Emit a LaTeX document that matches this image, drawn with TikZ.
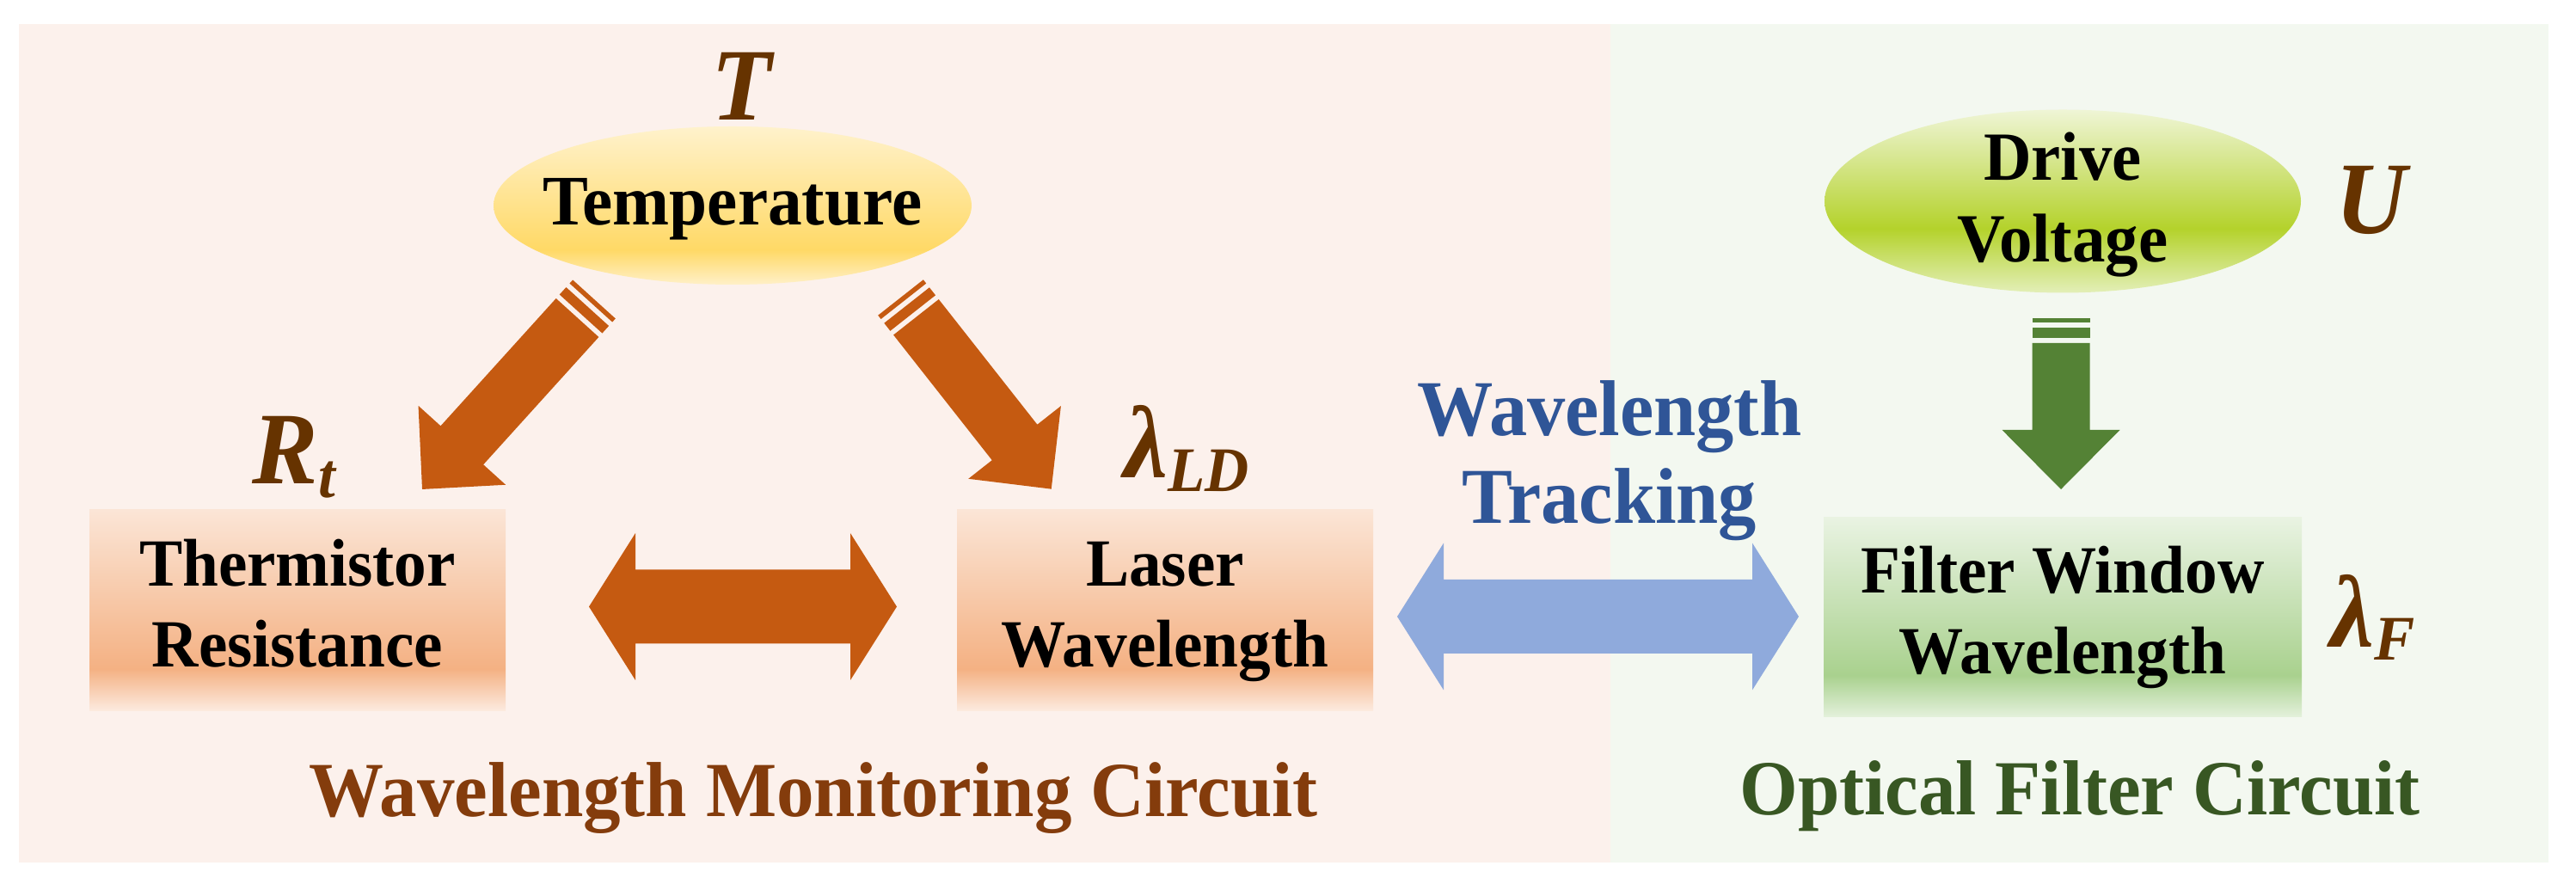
\documentclass[tikz,border=0pt]{standalone}
\usepackage{fontspec}
\setmainfont{Liberation Serif}[FakeStretch=0.96]
\usetikzlibrary{calc,shapes.geometric}

\definecolor{panelpink}{HTML}{FCF1EC}
\definecolor{panelgreen}{HTML}{F3F8F0}
\definecolor{arrorange}{HTML}{C55A11}
\definecolor{arrblue}{HTML}{8FAADC}
\definecolor{arrgreen}{HTML}{548235}
\definecolor{varbrown}{HTML}{663300}
\definecolor{monbrown}{HTML}{843C0C}
\definecolor{optgreen}{HTML}{385723}
\definecolor{trackblue}{HTML}{2F5597}
\definecolor{orbot}{HTML}{FCEBE0}
\definecolor{ormid}{HTML}{F4B183}
\definecolor{ortop}{HTML}{FBE5D6}
\definecolor{grbot}{HTML}{E4F1DC}
\definecolor{grmid}{HTML}{A9D18E}
\definecolor{grtop}{HTML}{E9F3E2}
\definecolor{gdbot}{HTML}{FFF0C8}
\definecolor{gdmid}{HTML}{FFD966}
\definecolor{gdtop}{HTML}{FFF2CC}
\definecolor{ylbot}{HTML}{E3EFB8}
\definecolor{ylmid}{HTML}{B4D22B}
\definecolor{yltop}{HTML}{EFF5D6}

% fills, listed bottom to top
\pgfdeclareverticalshading{orangebox}{100bp}{color(0bp)=(orbot); color(25bp)=(orbot); color(35.5bp)=(ormid); color(75bp)=(ortop); color(100bp)=(ortop)}
\pgfdeclareverticalshading{greenbox}{100bp}{color(0bp)=(grbot); color(25bp)=(grbot); color(35.5bp)=(grmid); color(75bp)=(grtop); color(100bp)=(grtop)}
\pgfdeclareverticalshading{goldbubble}{100bp}{color(0bp)=(gdbot); color(25bp)=(gdbot); color(36bp)=(gdmid); color(75bp)=(gdtop); color(100bp)=(gdtop)}
\pgfdeclareverticalshading{limebubble}{100bp}{color(0bp)=(ylbot); color(25bp)=(ylbot); color(42.5bp)=(ylmid); color(75bp)=(yltop); color(100bp)=(yltop)}

\tikzset{
	panelbox/.style={rectangle, inner sep=0pt, minimum width=4.84cm, minimum height=2.34cm},
	bubble/.style={ellipse, inner sep=0pt},
	boxtext/.style={align=center, inner sep=0pt, font=\fontsize{22.3}{26.7}\selectfont\bfseries},
	varlabel/.style={inner sep=0pt, text=varbrown, font=\fontsize{34}{34}\selectfont\bfseries\itshape},
	titletext/.style={inner sep=0pt, font=\fontsize{25.8}{30}\selectfont\bfseries},
}

\newcommand\sub[1]{\raisebox{-4.3pt}{\fontsize{21}{21}\selectfont #1}}

% block arrow with two stripes at the tail: colour, tail, tip
\newcommand\stripedarrow[3]{%
	\path let \p1=(#2), \p2=(#3) in \pgfextra{%
		\pgfmathsetmacro\arrang{atan2(\y2-\y1,\x2-\x1)}%
		\pgfmathsetmacro\arrlen{veclen(\x2-\x1,\y2-\y1)}%
		\global\let\arrang\arrang \global\let\arrlen\arrlen};
	\begin{scope}[shift={(#2)}, rotate=\arrang]
		\fill[#1] (0cm,-0.335cm) rectangle (0.055cm,0.335cm);
		\fill[#1] (0.115cm,-0.335cm) rectangle (0.23cm,0.335cm);
		\fill[#1] (0.29cm,-0.335cm) -- ({\arrlen pt-0.69cm},-0.335cm) -- ({\arrlen pt-0.69cm},-0.685cm)
			-- (\arrlen pt,0cm) -- ({\arrlen pt-0.69cm},0.685cm) -- ({\arrlen pt-0.69cm},0.335cm) -- (0.29cm,0.335cm) -- cycle;
	\end{scope}}

% horizontal block arrow with two heads: colour, left tip, right tip
\newcommand\dblarrow[3]{%
	\fill[#1] (#2) -- ($(#2)+(0.54,0.855)$) -- ($(#2)+(0.54,0.43)$) -- ($(#3)+(-0.54,0.43)$) -- ($(#3)+(-0.54,0.855)$)
		-- (#3) -- ($(#3)+(-0.54,-0.855)$) -- ($(#3)+(-0.54,-0.43)$) -- ($(#2)+(0.54,-0.43)$) -- ($(#2)+(0.54,-0.855)$) -- cycle;}

\begin{document}
\begin{tikzpicture}
	\useasboundingbox (0,0) rectangle (29.96,10.28);
	% the two circuits
	\fill[panelpink] (0.22,0.25) rectangle (18.73,10.00);
	\fill[panelgreen] (18.73,0.25) rectangle (29.64,10.00);

	\node[bubble, shading=goldbubble, minimum width=5.56cm, minimum height=1.84cm] (temp) at (8.52,7.89) {};
	\node[boxtext, font=\fontsize{23.5}{28}\selectfont\bfseries] (temptext) at ([yshift=-0.04cm]temp.center) {Temperature};
	\node[bubble, shading=limebubble, minimum width=5.54cm, minimum height=2.13cm] (drive) at (23.99,7.94) {};
	\node[boxtext, font=\fontsize{22.8}{27}\selectfont\bfseries] (drivetext) at ([yshift=-0.04cm]drive.center) {\strut Drive\\ \strut Voltage};

	\node[panelbox, shading=orangebox, boxtext] (therm) at (3.46,3.18) {\strut Thermistor\\ \strut Resistance};
	\node[panelbox, shading=orangebox, boxtext] (laser) at (13.55,3.18) {\strut Laser\\ \strut Wavelength};
	\node[panelbox, shading=greenbox, boxtext, minimum width=5.56cm, minimum height=2.32cm] (filter) at (23.99,3.10) {\strut Filter Window\\ \strut Wavelength};

	\node[varlabel, anchor=base] (tlabel) at (8.63,8.88) {T};
	\node[varlabel, anchor=base] (ulabel) at (27.58,7.56) {U};
	\node[varlabel, anchor=base west] (rlabel) at (2.93,4.65) {R\sub{t}};
	\node[varlabel, anchor=base west] (ldlabel) at (13.07,4.72) {λ\sub{LD}};
	\node[varlabel, anchor=base west] (flabel) at (27.10,2.755) {λ\sub{F}};

	\node[titletext, align=center, text=trackblue, font=\fontsize{26.2}{29}\selectfont\bfseries] (track) at (18.72,4.92) {Wavelength\\Tracking};
	\node[titletext, text=monbrown, anchor=base] (montitle) at (9.46,0.785) {Wavelength Monitoring Circuit};
	\node[titletext, text=optgreen, anchor=base] (opttitle) at (24.19,0.80) {Optical Filter Circuit};

	% arrow ends
	\coordinate (tr0) at (6.91,6.80);
	\coordinate (tr1) at (4.91,4.59);
	\coordinate (tl0) at (10.475,6.82);
	\coordinate (tl1) at (12.23,4.59);
	\coordinate (dv0) at (23.97,6.58);
	\coordinate (dv1) at (23.97,4.59);
	\coordinate (rl0) at (6.85,3.225);
	\coordinate (rl1) at (10.43,3.225);
	\coordinate (lf0) at (16.25,3.11);
	\coordinate (lf1) at (20.92,3.11);

	\stripedarrow{arrorange}{tr0}{tr1}
	\stripedarrow{arrorange}{tl0}{tl1}
	\stripedarrow{arrgreen}{dv0}{dv1}
	\dblarrow{arrorange}{rl0}{rl1}
	\dblarrow{arrblue}{lf0}{lf1}
\end{tikzpicture}
\end{document}
